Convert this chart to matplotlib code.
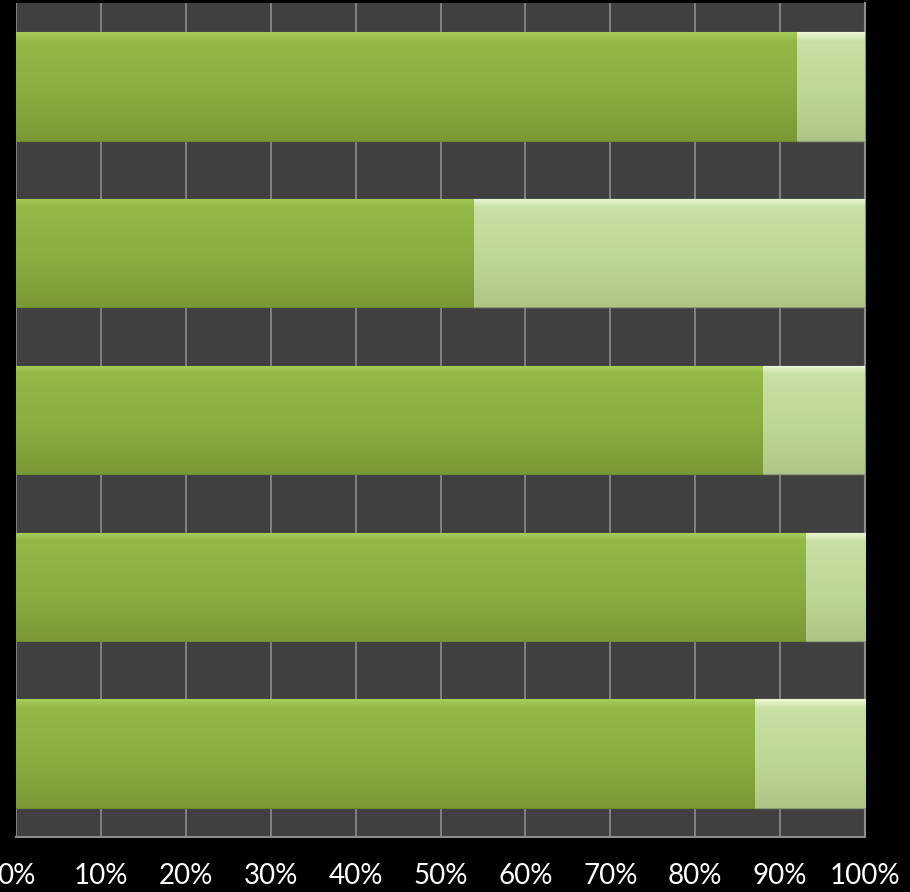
"""
100% stacked horizontal bars, dark theme
"""

import matplotlib.pyplot as plt
import numpy as np
from matplotlib.colors import LinearSegmentedColormap

# Categories top to bottom and their two shares (in %)
categories = ["A", "B", "C", "D", "E"]
share_main = [92, 54, 88, 93, 87]
share_rest = [8, 46, 12, 7, 13]
ticks = [0, 10, 20, 30, 40, 50, 60, 70, 80, 90, 100]
tick_labels = ["{}%".format(t) for t in ticks]

fig = plt.figure(figsize=(9.1, 8.92), dpi=100, facecolor="black")
ax = fig.add_axes([16 / 910, 55 / 892, 849 / 910, 834 / 892])
ax.set_facecolor("#404040")

y = np.arange(len(categories))[::-1]
bars_main = ax.barh(y, share_main, height=0.65, color="#8aab40",
                    edgecolor="#6e8a2e", linewidth=0.8, zorder=3)
bars_rest = ax.barh(y, share_rest, left=share_main, height=0.65, color="#bcd695",
                    edgecolor="#8a9a78", linewidth=1.0, zorder=3)

# vertical gradient inside every bar to mimic the bevelled look
main_cmap = LinearSegmentedColormap.from_list(
    "main", [(0, "#a8cc58"), (0.08, "#94b848"), (0.6, "#89ab40"), (1, "#7a9936")])
rest_cmap = LinearSegmentedColormap.from_list(
    "rest", [(0, "#eef8d4"), (0.08, "#c8e0a4"), (0.6, "#bcd695"), (1, "#aec586")])
grad = np.linspace(0, 1, 200).reshape(-1, 1)
for bars, cmap in [(bars_main, main_cmap), (bars_rest, rest_cmap)]:
    for bar in bars:
        x0, y0 = bar.get_x(), bar.get_y()
        w, h = bar.get_width(), bar.get_height()
        img = ax.imshow(grad, cmap=cmap, aspect="auto", zorder=3.5,
                        extent=[x0, x0 + w, y0, y0 + h], origin="upper")
        img.set_clip_path(bar)

ax.set_xlim(0, 100)
ax.set_ylim(-0.5, len(categories) - 0.5)
ax.set_xticks(ticks)
ax.set_xticklabels(tick_labels, color="white", fontsize=20, family="Lato")
ax.tick_params(axis="x", length=0, pad=19)
ax.set_yticks([])
ax.grid(axis="x", color="#8c8c8c", linewidth=1.2, zorder=1)
ax.set_axisbelow(True)
for side in ["top", "left"]:
    ax.spines[side].set_visible(False)
for side in ["bottom", "right"]:
    ax.spines[side].set_color("#8c8c8c")
    ax.spines[side].set_linewidth(1.5)

plt.savefig("out.png", dpi=100, facecolor="black")
